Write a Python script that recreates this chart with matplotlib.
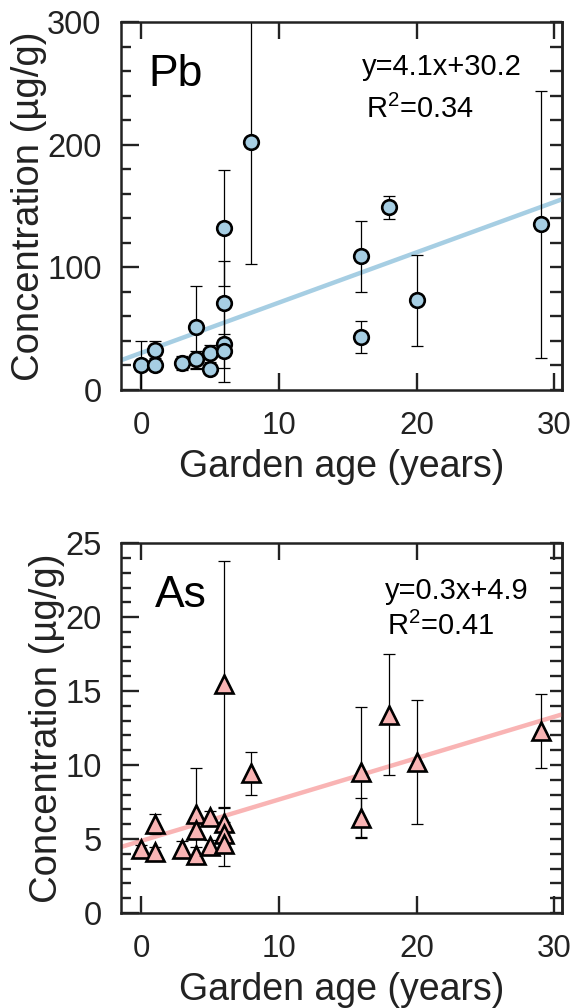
import numpy as np
import matplotlib
matplotlib.use("Agg")
import matplotlib.pyplot as plt
from matplotlib.ticker import MultipleLocator

plt.rcParams['font.family'] = ['Liberation Sans', 'DejaVu Sans']
plt.rcParams['mathtext.fontset'] = 'custom'
plt.rcParams['mathtext.rm'] = 'Liberation Sans'
plt.rcParams['mathtext.it'] = 'Liberation Sans'

# Pb panel
pb_age = [0, 1, 1, 3, 4, 4, 5, 5, 6, 6, 6, 6, 8, 16, 16, 18, 20, 29]
pb_conc = [20, 20, 33, 22, 51, 25, 30, 17.5, 132, 71, 37.5, 32, 202, 109, 43, 149, 73, 135]
pb_err = [20, 4, 7, 6, 34, 7, 7, 4, 47, 34, 31, 14, 99, 29, 13, 9.5, 37, 109]
pb_fit = (4.1, 30.2)

# As panel
as_age = [0, 1, 1, 3, 4, 4, 4, 5, 5, 6, 6, 6, 6, 8, 16, 16, 18, 20, 29]
as_conc = [4.3, 4.15, 6.0, 4.3, 6.7, 5.6, 3.9, 6.5, 4.55, 15.5, 6.1, 5.35, 4.65,
           9.45, 9.55, 6.4, 13.4, 10.2, 12.3]
as_err = [0.3, 0.3, 0.67, 0.6, 3.1, 0.5, 0.57, 0.4, 0.4, 8.3, 1.0, 0.5, 1.5,
          1.45, 4.4, 1.35, 4.1, 4.2, 2.5]
as_fit = (0.28, 4.87)

XLIM = (-1.45, 30.55)
INK = '#222222'


def panel(ax, x, y, err, fit, marker, color, ms, ylim, ymajor, yminor, name, eq, r2, pos):
    ax.errorbar(x, y, yerr=err, fmt='none', ecolor='black', elinewidth=0.9,
                capsize=4.5, capthick=0.9, zorder=2)
    xs = np.array(XLIM)
    ax.plot(xs, fit[0] * xs + fit[1], color=color, lw=3.2, zorder=1, solid_capstyle='butt')
    ax.plot(x, y, linestyle='none', marker=marker, ms=ms, mfc=color, mec='black',
            mew=1.9, zorder=3)

    ax.set_xlim(*XLIM)
    ax.set_ylim(*ylim)
    ax.xaxis.set_major_locator(MultipleLocator(10))
    ax.yaxis.set_major_locator(MultipleLocator(ymajor))
    ax.yaxis.set_minor_locator(MultipleLocator(yminor))
    ax.tick_params(axis='x', which='major', direction='in', length=12.5, width=1.7,
                   top=True, labelsize=22.5, pad=15, colors=INK)
    ax.tick_params(axis='y', which='major', direction='in', length=13, width=1.7,
                   labelsize=23.5, pad=14, colors=INK)
    ax.tick_params(axis='y', which='minor', direction='in', length=7, width=1.7, colors=INK)
    for s in ax.spines.values():
        s.set_linewidth(1.8)
        s.set_color(INK)

    # short ticks on the right side
    sec = ax.secondary_yaxis('right')
    sec.set_yticks(np.arange(ylim[0], ylim[1] + yminor / 2, yminor))
    sec.tick_params(direction='in', length=8.5, width=1.7, labelright=False, colors=INK)
    sec.spines['right'].set_linewidth(1.8)
    sec.spines['right'].set_color(INK)

    ax.set_xlabel('Garden age (years)', fontsize=27, color=INK, labelpad=6)
    ax.set_ylabel('Concentration (µg/g)', fontsize=27.5, color=INK, labelpad=0)

    ax.text(pos[0], pos[1], name, transform=ax.transAxes, fontsize=32,
            va='baseline', ha='left', color='black')
    ax.text(pos[2], pos[3], eq, transform=ax.transAxes, fontsize=21,
            va='baseline', ha='left', color='black')
    ax.text(pos[4], pos[5], r2, transform=ax.transAxes, fontsize=21,
            va='baseline', ha='left', color='black')


fig = plt.figure(figsize=(5.74, 10.08), dpi=100)
ax1 = fig.add_axes([0.2108, 0.6131, 0.7683, 0.3651])
ax2 = fig.add_axes([0.2108, 0.0942, 0.7683, 0.3670])

panel(ax1, pb_age, pb_conc, pb_err, pb_fit, 'o', '#a6cee3', 10.5, (0, 300), 100, 20,
      'Pb', 'y=4.1x+30.2', r'R$^2$=0.34', (0.062, 0.826, 0.546, 0.856, 0.555, 0.739))
panel(ax2, as_age, as_conc, as_err, as_fit, '^', '#f9b4b4', 13.5, (0, 25), 5, 1,
      'As', 'y=0.3x+4.9', r'R$^2$=0.41', (0.077, 0.826, 0.599, 0.849, 0.604, 0.751))

fig.savefig('out.png', dpi=100)
